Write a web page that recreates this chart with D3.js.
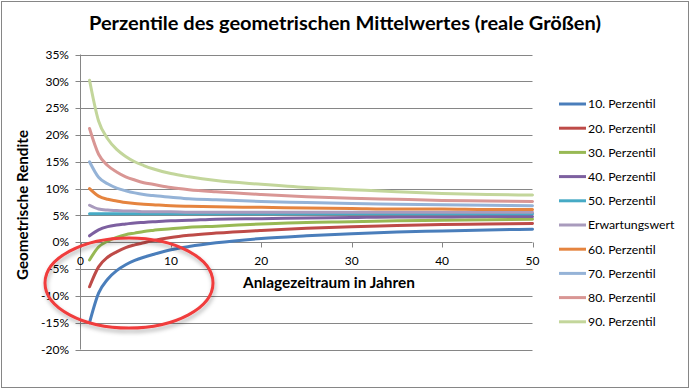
<!DOCTYPE html>
<html>
<head>
<meta charset="utf-8">
<script src="https://cdn.jsdelivr.net/npm/d3@7"></script>
<style>
  body { margin: 0; background: #fff; }
  svg { display: block; font-family: Lato, "Open Sans", sans-serif; }
</style>
</head>
<body>
<svg id="chart" width="691" height="390"></svg>
<script>
const years = [1, 2, 3, 4, 5, 6, 7, 8, 10, 12, 15, 20, 25, 30, 35, 40, 45, 50];

// geometric mean return in %, per percentile
const p10 = [-15.0, -9.5, -6.9, -5.3, -4.2, -3.4, -2.8, -2.3, -1.4, -0.8, -0.1, 0.7, 1.2, 1.6, 1.9, 2.1, 2.3, 2.4];
const p20 = [-8.3, -4.6, -2.8, -1.8, -1.0, -0.5, -0.1, 0.3, 0.9, 1.3, 1.7, 2.2, 2.6, 2.9, 3.1, 3.3, 3.4, 3.5];
const p30 = [-3.3, -0.9, 0.2, 0.9, 1.4, 1.7, 2.0, 2.2, 2.5, 2.8, 3.0, 3.4, 3.7, 3.8, 4.0, 4.1, 4.2, 4.3];
const p40 = [1.2, 2.3, 2.9, 3.2, 3.4, 3.6, 3.7, 3.8, 4.0, 4.1, 4.3, 4.4, 4.5, 4.6, 4.7, 4.7, 4.8, 4.8];
const p50 = [5.3, 5.3, 5.3, 5.3, 5.3, 5.3, 5.3, 5.3, 5.3, 5.3, 5.3, 5.3, 5.3, 5.3, 5.3, 5.3, 5.3, 5.3];
const erw = [6.9, 6.2, 6.0, 5.9, 5.8, 5.8, 5.7, 5.7, 5.7, 5.6, 5.6, 5.6, 5.6, 5.6, 5.6, 5.6, 5.6, 5.6];
const p60 = [10.0, 8.6, 8.0, 7.7, 7.4, 7.2, 7.1, 7.0, 6.8, 6.7, 6.6, 6.5, 6.4, 6.3, 6.2, 6.2, 6.1, 6.1];
const p70 = [15.0, 12.1, 10.9, 10.1, 9.6, 9.2, 8.9, 8.7, 8.4, 8.1, 7.9, 7.6, 7.4, 7.2, 7.1, 7.0, 6.9, 6.8];
const p80 = [21.2, 16.4, 14.3, 13.1, 12.2, 11.6, 11.1, 10.8, 10.2, 9.8, 9.4, 8.9, 8.5, 8.2, 8.0, 7.8, 7.7, 7.6];
const p90 = [30.2, 22.6, 19.3, 17.3, 16.0, 15.0, 14.3, 13.7, 12.8, 12.2, 11.5, 10.8, 10.2, 9.8, 9.4, 9.1, 8.9, 8.8];

const seriesNames = ["10. Perzentil", "20. Perzentil", "30. Perzentil", "40. Perzentil", "50. Perzentil",
    "Erwartungswert", "60. Perzentil", "70. Perzentil", "80. Perzentil", "90. Perzentil"];
const seriesValues = [p10, p20, p30, p40, p50, erw, p60, p70, p80, p90];
const seriesColors = ["#4a7ebb", "#be4b48", "#98b954", "#7d60a0", "#46aac5",
    "#a99bbd", "#e5843f", "#95b3d7", "#d99694", "#c3d69b"];

const yTicks = [35, 30, 25, 20, 15, 10, 5, 0, -5, -10, -15, -20];
const xTicks = [0, 10, 20, 30, 40, 50];

const svg = d3.select("#chart");
const gray = "#868686";

// chart frame
svg.append("rect")
    .attr("x", 1.5).attr("y", 1.5)
    .attr("width", 687).attr("height", 386)
    .attr("fill", "#fff")
    .attr("stroke", gray)
    .attr("stroke-width", 1);

const x = d3.scaleLinear().domain([0, 50]).range([80.5, 532.5]);
const y = d3.scaleLinear().domain([-20, 35]).range([349.5, 54.5]);

// gridlines
svg.append("g")
    .selectAll("line")
    .data(yTicks)
    .join("line")
    .attr("x1", x(0) - 5)
    .attr("x2", x(50))
    .attr("y1", (d) => Math.round(y(d)) + 0.5)
    .attr("y2", (d) => Math.round(y(d)) + 0.5)
    .attr("stroke", gray);

// y axis line
svg.append("line")
    .attr("x1", x(0)).attr("x2", x(0))
    .attr("y1", y(35)).attr("y2", y(-20))
    .attr("stroke", gray);

// y tick labels
svg.append("g")
    .selectAll("text")
    .data(yTicks)
    .join("text")
    .attr("x", 69)
    .attr("y", (d) => y(d))
    .attr("dy", "0.35em")
    .attr("text-anchor", "end")
    .attr("font-size", 12)
    .attr("fill", "#000")
    .text((d) => d + "%");

// x ticks on the 0% line
const y0 = Math.round(y(0)) + 0.5;
svg.append("g")
    .selectAll("line")
    .data(xTicks)
    .join("line")
    .attr("x1", (d) => Math.round(x(d)) + 0.5)
    .attr("x2", (d) => Math.round(x(d)) + 0.5)
    .attr("y1", y0)
    .attr("y2", y0 + 5)
    .attr("stroke", gray);

svg.append("g")
    .selectAll("text")
    .data(xTicks)
    .join("text")
    .attr("x", (d) => x(d))
    .attr("y", 261)
    .attr("dy", "0.35em")
    .attr("text-anchor", "middle")
    .attr("font-size", 12)
    .text((d) => d);

// lines
const line = d3.line()
    .x((d, i) => x(years[i]))
    .y((d) => y(d))
    .curve(d3.curveMonotoneX);

svg.append("g")
    .attr("fill", "none")
    .selectAll("path")
    .data(seriesValues)
    .join("path")
    .attr("stroke", (d, i) => seriesColors[i])
    .attr("stroke-width", 3)
    .attr("stroke-linecap", "round")
    .attr("d", line);

// titles
svg.append("text")
    .attr("x", 345)
    .attr("y", 30)
    .attr("text-anchor", "middle")
    .attr("font-size", 18)
    .attr("font-weight", "bold")
    .attr("textLength", 512)
    .attr("lengthAdjust", "spacingAndGlyphs")
    .text("Perzentile des geometrischen  Mittelwertes (reale Größen)");

svg.append("text")
    .attr("x", 329)
    .attr("y", 288)
    .attr("text-anchor", "middle")
    .attr("font-size", 14.5)
    .attr("font-weight", "bold")
    .attr("textLength", 172)
    .attr("lengthAdjust", "spacingAndGlyphs")
    .text("Anlagezeitraum in Jahren");

svg.append("text")
    .attr("transform", "translate(28,205) rotate(-90)")
    .attr("text-anchor", "middle")
    .attr("font-size", 14.5)
    .attr("font-weight", "bold")
    .attr("textLength", 150)
    .attr("lengthAdjust", "spacingAndGlyphs")
    .text("Geometrische Rendite");

// legend
const legend = svg.append("g")
    .selectAll("g")
    .data(seriesNames)
    .join("g")
    .attr("transform", (d, i) => `translate(559,${104 + i * 24.2})`);

legend.append("line")
    .attr("x1", 0).attr("x2", 27)
    .attr("stroke", (d, i) => seriesColors[i])
    .attr("stroke-width", 3);

legend.append("text")
    .attr("x", 29)
    .attr("dy", "0.35em")
    .attr("font-size", 12.3)
    .text((d) => d);

// red ellipse annotation with a soft shadow
const defs = svg.append("defs");
const f = defs.append("filter").attr("id", "shadow")
    .attr("x", "-20%").attr("y", "-20%").attr("width", "140%").attr("height", "150%");
f.append("feDropShadow")
    .attr("dx", 1).attr("dy", 3)
    .attr("stdDeviation", 2)
    .attr("flood-color", "#000")
    .attr("flood-opacity", 0.3);

svg.append("ellipse")
    .attr("cx", 129).attr("cy", 283)
    .attr("rx", 84).attr("ry", 45)
    .attr("fill", "none")
    .attr("stroke", "#f03c3c")
    .attr("stroke-width", 3)
    .attr("filter", "url(#shadow)");
</script>
</body>
</html>
